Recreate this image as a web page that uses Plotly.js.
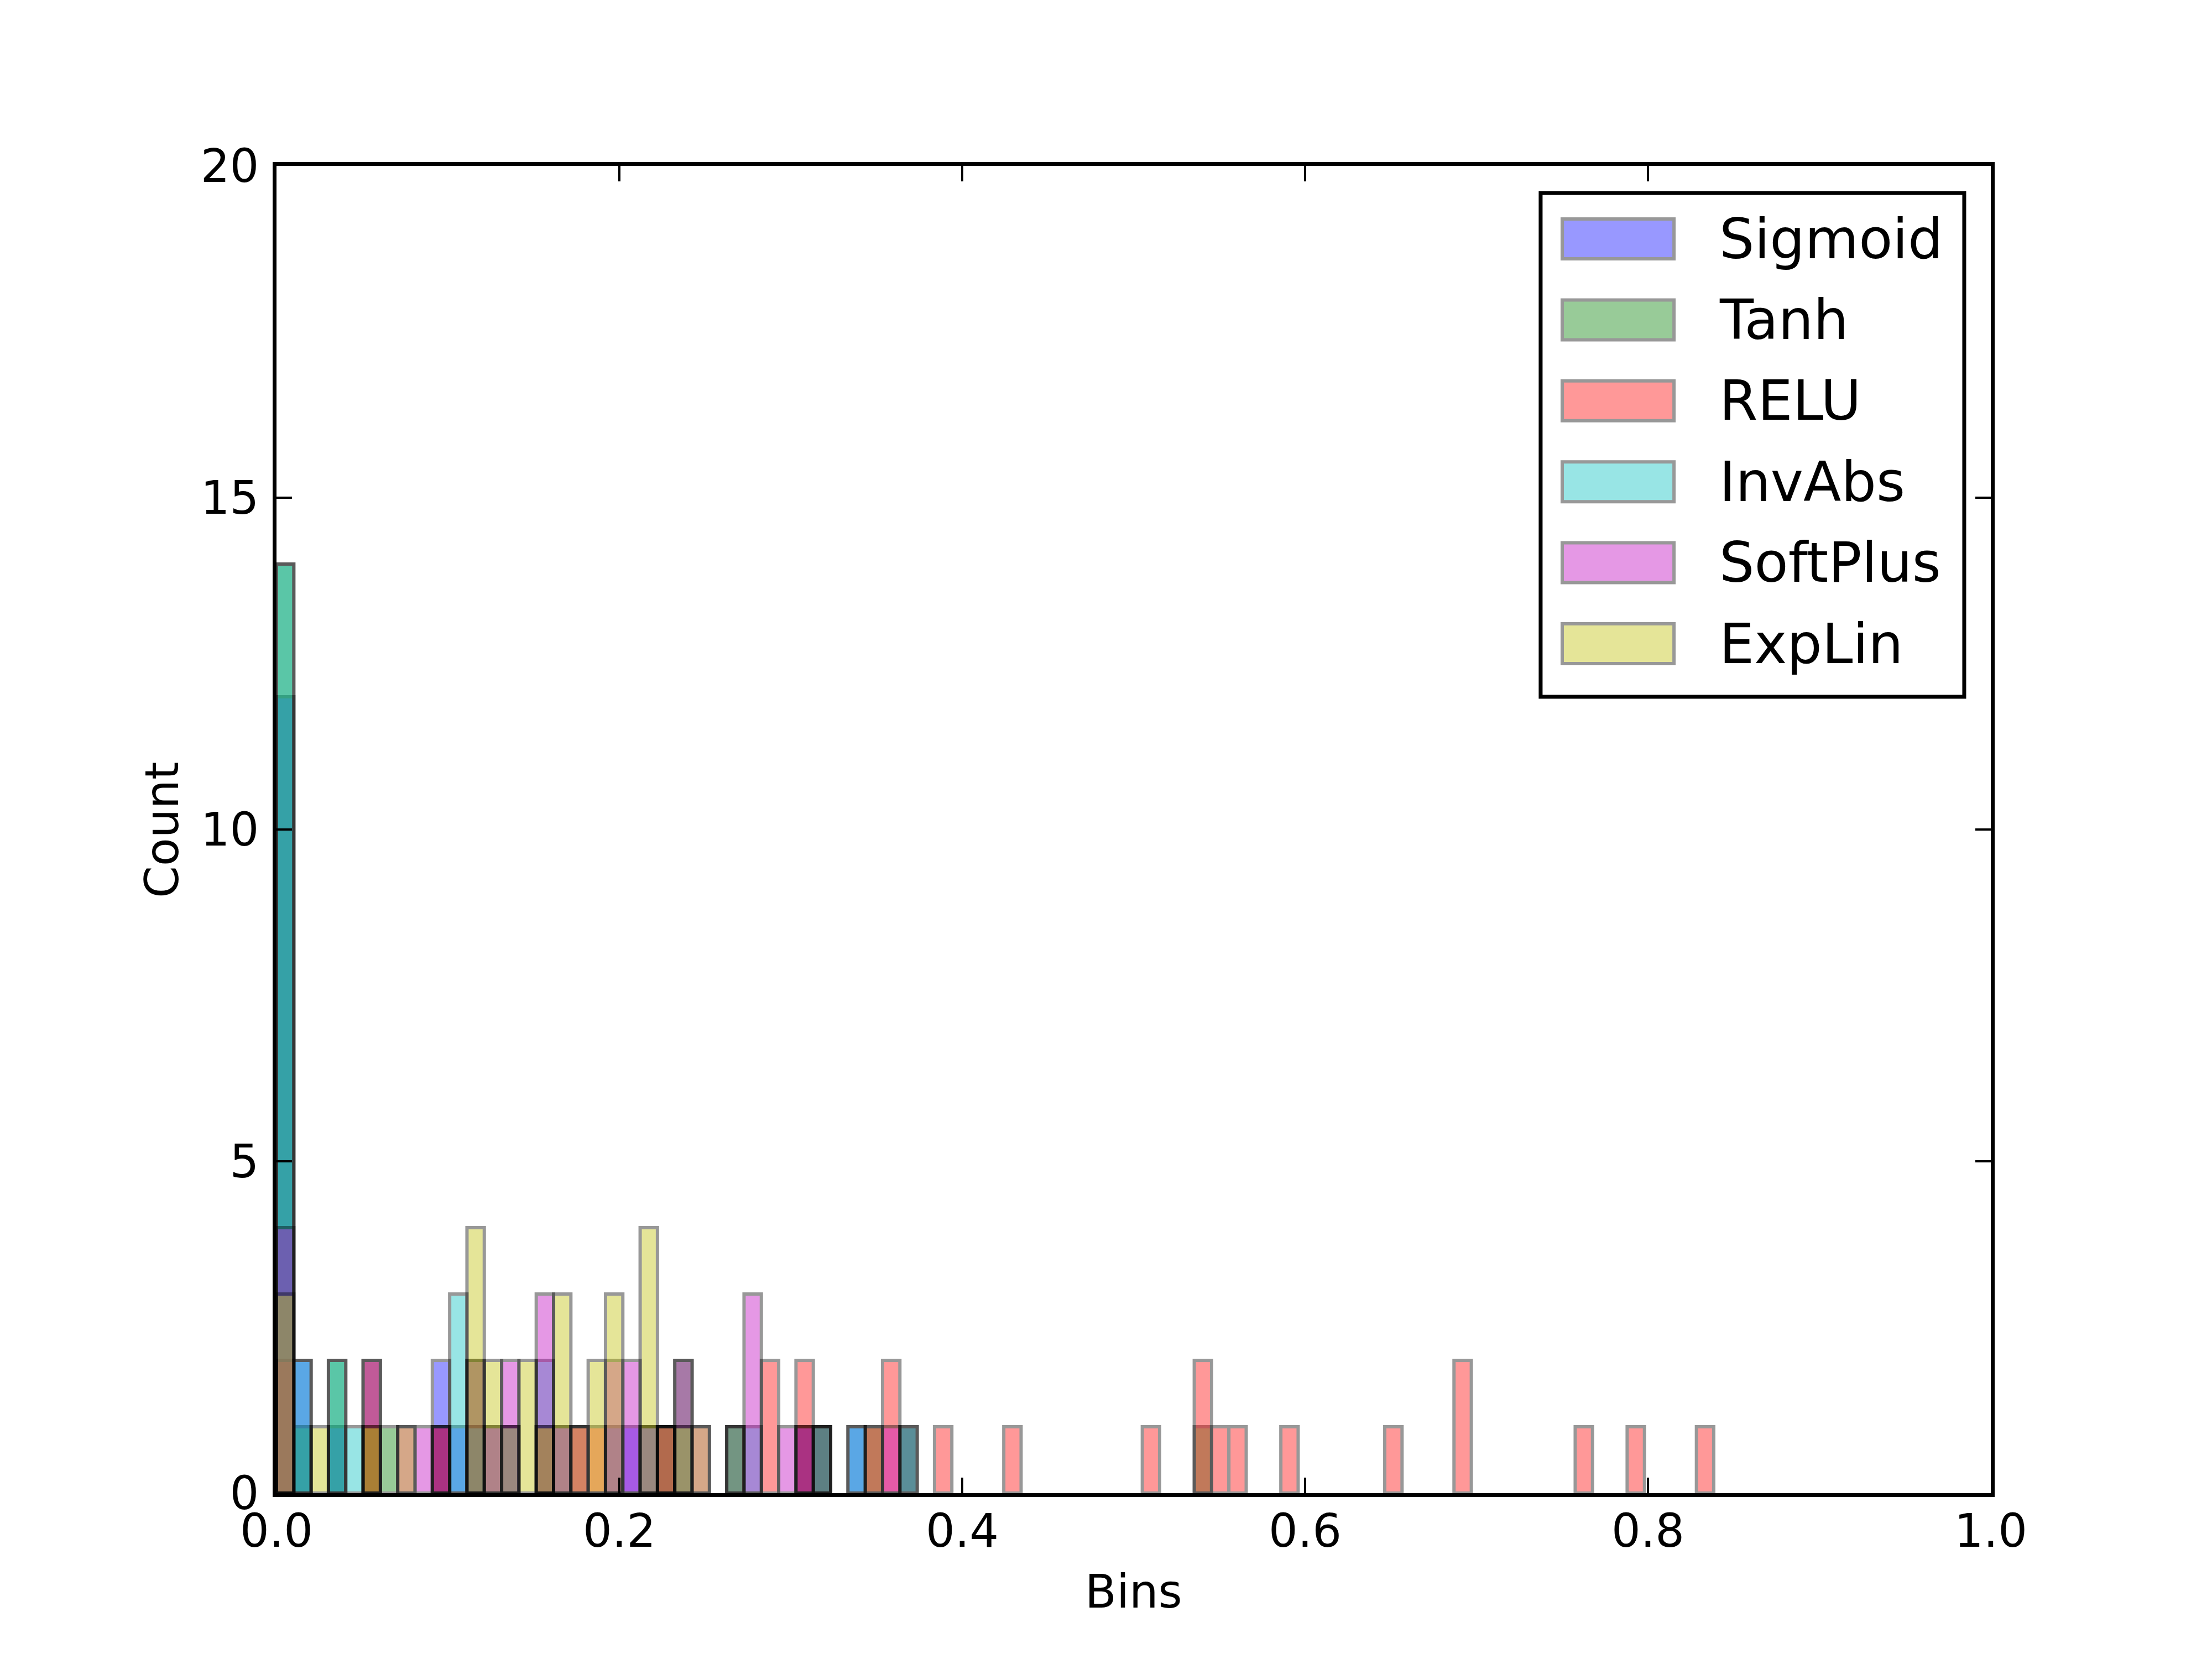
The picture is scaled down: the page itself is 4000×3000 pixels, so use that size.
<!DOCTYPE html>
<html>
<head>
<meta charset="utf-8">
<script src="https://cdn.plot.ly/plotly-3.0.1.min.js"></script>
<style>
  html, body { margin: 0; padding: 0; background: #ffffff; }
  #grafico { width: 4000px; height: 3000px; }
</style>
</head>
<body>
<div id="grafico"></div>
<script>
// Histogramas de activaciones: 99 intervalos iguales entre 0 y 1,
// cada serie guarda sólo los intervalos no vacíos (índice) y su conteo.
const NUM_BINS = 99;

const sigmoidBins   = [0, 1, 3, 5, 9, 10, 11, 12, 13, 16, 19, 20, 21, 22, 30, 31, 33, 36];
const sigmoidCounts = [12, 2, 1, 2, 2, 1, 1, 1, 1, 1, 1, 1, 1, 1, 1, 1, 1, 1];

const tanhBins   = [0, 1, 3, 5, 6, 9, 11, 15, 22, 23, 26, 30, 31, 34, 36, 53];
const tanhCounts = [14, 1, 2, 1, 1, 1, 2, 1, 1, 2, 1, 1, 1, 1, 1, 1];

const reluBins   = [0, 5, 9, 15, 17, 18, 22, 26, 28, 30, 31, 34, 35, 38, 42, 50, 53, 54, 55, 58, 64, 68, 75, 78, 82];
const reluCounts = [2, 2, 1, 1, 1, 1, 1, 1, 2, 2, 1, 1, 2, 1, 1, 1, 2, 1, 1, 1, 1, 2, 1, 1, 1];

const invAbsBins   = [0, 1, 3, 4, 10, 11, 13, 15, 21, 23, 26, 27, 31, 33];
const invAbsCounts = [14, 2, 2, 1, 3, 1, 1, 2, 1, 1, 1, 1, 1, 1];

const softPlusBins   = [0, 7, 8, 9, 11, 12, 13, 15, 16, 17, 19, 20, 21, 22, 23, 24, 27, 29, 30, 35];
const softPlusCounts = [4, 1, 1, 1, 2, 1, 2, 3, 1, 1, 2, 2, 1, 1, 2, 1, 3, 1, 1, 1];

const expLinBins   = [0, 2, 5, 7, 11, 12, 13, 14, 15, 16, 17, 18, 19, 21, 22, 23, 24];
const expLinCounts = [3, 1, 1, 1, 4, 2, 1, 2, 1, 3, 1, 2, 3, 4, 1, 1, 1];

const xTicks = [0, 0.2, 0.4, 0.6, 0.8, 1.0];
const yTicks = [0, 5, 10, 15, 20];

// orden de dibujo = orden de la leyenda (la última queda arriba)
const SERIES = [
  { name: 'Sigmoid',  bins: sigmoidBins,  counts: sigmoidCounts,  color: '#0000ff' },
  { name: 'Tanh',     bins: tanhBins,     counts: tanhCounts,     color: '#008000' },
  { name: 'RELU',     bins: reluBins,     counts: reluCounts,     color: '#ff0000' },
  { name: 'InvAbs',   bins: invAbsBins,   counts: invAbsCounts,   color: '#00bfbf' },
  { name: 'SoftPlus', bins: softPlusBins, counts: softPlusCounts, color: '#bf00bf' },
  { name: 'ExpLin',   bins: expLinBins,   counts: expLinCounts,   color: '#bfbf00' },
];

const FUENTE = 'DejaVu Sans, Liberation Sans, sans-serif';
const ANCHO_BIN = 1 / NUM_BINS;
const ALFA = 0.4;

const trazas = SERIES.map((s) => ({
  type: 'bar',
  name: s.name,
  x: s.bins.map((b) => (b + 0.5) * ANCHO_BIN),
  y: s.counts,
  width: s.bins.map(() => ANCHO_BIN),
  opacity: ALFA,
  marker: { color: s.color, line: { color: '#000000', width: 6 } },
  showlegend: false,
  hoverinfo: 'skip',
}));

// Leyenda dibujada a mano: parches grandes como los de matplotlib.
// Coordenadas en "paper" (0..1 sobre el área de ejes).
const LEY = { x0: 0.7374, x1: 0.9845, yTop: 0.9796, yBot: 0.6 };
const PARCHE = { x0: 0.75, x1: 0.8152, alto: 0.03 };
const FILA0 = 0.9450;
const PASO_FILA = 0.0610;
const TEXTO_X = 0.8410;

const formasLeyenda = [{
  type: 'rect', xref: 'paper', yref: 'paper',
  x0: LEY.x0, x1: LEY.x1, y0: LEY.yBot, y1: LEY.yTop,
  line: { color: '#000000', width: 7 },
  fillcolor: '#ffffff',
  layer: 'above',
}];
const textosLeyenda = [];
SERIES.forEach((s, i) => {
  const yc = FILA0 - i * PASO_FILA;
  formasLeyenda.push({
    type: 'rect', xref: 'paper', yref: 'paper',
    x0: PARCHE.x0, x1: PARCHE.x1, y0: yc - PARCHE.alto / 2, y1: yc + PARCHE.alto / 2,
    fillcolor: s.color,
    line: { color: '#000000', width: 6 },
    opacity: ALFA,
    layer: 'above',
  });
  textosLeyenda.push({
    xref: 'paper', yref: 'paper', x: TEXTO_X, y: yc,
    xanchor: 'left', yanchor: 'middle',
    text: s.name, showarrow: false,
    font: { family: FUENTE, size: 100, color: '#000000' },
  });
});

const ejeComun = {
  showgrid: false,
  zeroline: false,
  showline: true,
  linecolor: '#000000',
  linewidth: 7,
  mirror: 'ticks',
  ticks: 'inside',
  ticklen: 28,
  tickwidth: 3.5,
  tickcolor: '#000000',
  tickfont: { family: FUENTE, size: 83, color: '#000000' },
  fixedrange: true,
};

const layout = {
  width: 4000,
  height: 3000,
  barmode: 'overlay',
  showlegend: false,
  margin: { l: 500, r: 400, t: 300, b: 300, pad: 0 },
  paper_bgcolor: '#ffffff',
  plot_bgcolor: '#ffffff',
  font: { family: FUENTE, color: '#000000' },
  xaxis: Object.assign({}, ejeComun, {
    range: [0, 1],
    tickmode: 'array',
    tickvals: xTicks,
    ticktext: xTicks.map((v) => v.toFixed(1)),
    ticklabelstandoff: -10,
  }),
  yaxis: Object.assign({}, ejeComun, {
    range: [0, 20],
    tickmode: 'array',
    tickvals: yTicks,
    ticktext: yTicks.map((v) => String(v)),
    ticklabelstandoff: 8,
  }),
  shapes: formasLeyenda,
  annotations: [
    ...textosLeyenda,
    {
      xref: 'paper', yref: 'paper', x: 0.5, y: -0.0742,
      xanchor: 'center', yanchor: 'middle',
      text: 'Bins', showarrow: false,
      font: { family: FUENTE, size: 83, color: '#000000' },
    },
    {
      xref: 'paper', yref: 'paper', x: -0.0668, y: 0.5,
      xanchor: 'center', yanchor: 'middle', textangle: -90,
      text: 'Count', showarrow: false,
      font: { family: FUENTE, size: 83, color: '#000000' },
    },
  ],
};

Plotly.newPlot('grafico', trazas, layout, { displayModeBar: false, staticPlot: true });
</script>
</body>
</html>
